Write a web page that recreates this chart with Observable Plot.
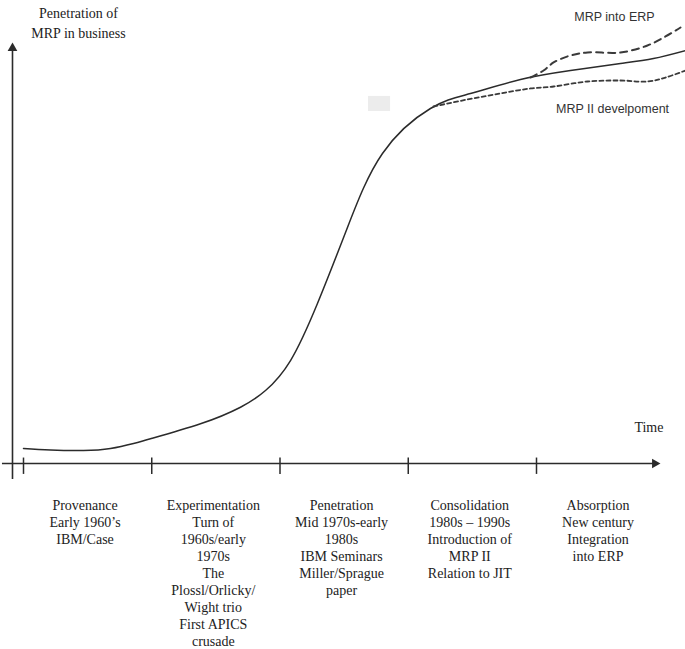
<!DOCTYPE html>
<html>
<head>
<meta charset="utf-8">
<script src="https://cdn.jsdelivr.net/npm/d3@7"></script>
<script src="https://cdn.jsdelivr.net/npm/@observablehq/plot@0.6"></script>
<style>
  html, body { margin: 0; padding: 0; background: #fff; }
</style>
</head>
<body>
<div id="chart"></div>
<script>
// x = time measured in phases (phase boundaries at 0..5), y = penetration (0..100)
const phaseNames = ["Provenance", "Experimentation", "Penetration", "Consolidation", "Absorption"];
const phaseText = [
  "Provenance\nEarly 1960’s\nIBM/Case",
  "Experimentation\nTurn of\n1960s/early\n1970s\nThe\nPlossl/Orlicky/\nWight trio\nFirst APICS\ncrusade",
  "Penetration\nMid 1970s-early\n1980s\nIBM Seminars\nMiller/Sprague\npaper",
  "Consolidation\n1980s – 1990s\nIntroduction of\nMRP II\nRelation to JIT",
  "Absorption\nNew century\nIntegration\ninto ERP"
];
const phaseTicks = [0, 1, 2, 3, 4];

// Main S-curve: penetration of MRP in business
const mrpT = [0, 0.211, 0.468, 0.678, 0.858, 0.990, 1.380, 1.692, 1.887, 2.082, 2.292, 2.526, 2.799, 3.173, 3.485, 3.875, 4.265, 4.655, 4.912, 5.162];
const mrpY = [3.57, 3.21, 3.10, 3.57, 4.76, 5.88, 9.45, 13.40, 17.38, 24.52, 38.10, 56.19, 73.81, 84.52, 88.10, 91.43, 93.57, 95.24, 96.43, 98.33];

// Branch: MRP into ERP (long dashes)
const erpT = [3.953, 4.055, 4.133, 4.265, 4.398, 4.655, 4.865, 5.006, 5.123];
const erpY = [91.9, 93.57, 95.48, 97.14, 97.86, 97.86, 99.52, 101.67, 103.81];

// Branch: MRP II development (short dashes)
const mrp2T = [3.197, 3.462, 3.719, 3.953, 4.133, 4.398, 4.655, 4.865, 5.006, 5.162];
const mrp2Y = [85.0, 86.67, 88.10, 89.29, 89.76, 90.95, 91.19, 90.95, 91.90, 93.57];

const seriesLabels = ["MRP into ERP", "MRP II develpoment"];
const yAxisTitle = "Penetration of\nMRP in business";
const xAxisTitle = "Time";

const mrp = mrpT.map((t, i) => ({t, y: mrpY[i]}));
const erp = erpT.map((t, i) => ({t, y: erpY[i]}));
const mrp2 = mrp2T.map((t, i) => ({t, y: mrp2Y[i]}));
const phases = phaseNames.map((name, i) => ({name, text: phaseText[i], i}));

const ink = "#2b2b2b";
const serif = "'Liberation Serif', 'Times New Roman', serif";
const sans = "'Liberation Sans', Arial, sans-serif";

// axis geometry in data units
const yAxisX = -0.0858;
const xAxisStart = -0.164;

const chart = Plot.plot({
  width: 685,
  height: 649,
  marginLeft: 23,
  marginRight: 20.75,
  marginTop: 43,
  marginBottom: 186,
  x: {domain: [0, 5], axis: null},
  y: {domain: [0, 100], axis: null},
  style: {background: "#fff", overflow: "visible"},
  marks: [
    // faint grey artifact box
    Plot.rect([{x1: 2.69, x2: 2.862, y1: 83.8, y2: 87.4}], {x1: "x1", x2: "x2", y1: "y1", y2: "y2", fill: "#ececec"}),
    // axes
    Plot.ruleY([0], {x1: xAxisStart, x2: 4.93, stroke: ink, strokeWidth: 1.6}),
    Plot.ruleX([yAxisX], {y1: -3.8, y2: 98.8, stroke: ink, strokeWidth: 1.6}),
    Plot.dot([{x: yAxisX, y: 98.9}], {x: "x", y: "y", symbol: "triangle", r: 3.6, fill: ink, stroke: "none"}),
    Plot.dot([{x: 4.923, y: 0}], {x: "x", y: "y", symbol: "triangle", r: 3.6, fill: ink, stroke: "none", rotate: 90}),
    Plot.ruleX(phaseTicks, {y1: -2.6, y2: 1.3, stroke: ink, strokeWidth: 1.5}),
    // curves
    Plot.line(mrp, {x: "t", y: "y", curve: "natural", stroke: ink, strokeWidth: 1.5}),
    Plot.line(erp, {x: "t", y: "y", curve: "catmull-rom", stroke: "#3a3a3a", strokeWidth: 2, strokeDasharray: "7,5"}),
    Plot.line(mrp2, {x: "t", y: "y", curve: "catmull-rom", stroke: "#3a3a3a", strokeWidth: 1.8, strokeDasharray: "4,3"}),
    // series labels
    Plot.text([seriesLabels[0]], {x: 4.608, y: 106.2, text: d => d, fontFamily: sans, fontSize: 12.5, fill: "#333", lineAnchor: "middle"}),
    Plot.text([seriesLabels[1]], {x: 4.593, y: 84.5, text: d => d, fontFamily: sans, fontSize: 12.5, fill: "#333", lineAnchor: "middle"}),
    // axis titles
    Plot.text([yAxisTitle], {x: 0.429, y: 109.5, text: d => d, fontFamily: serif, fontSize: 14, fill: "#222", lineAnchor: "top", lineHeight: 1.43}),
    Plot.text([xAxisTitle], {x: 4.99, y: 8.45, text: d => d, fontFamily: serif, fontSize: 14, fill: "#222", textAnchor: "end", lineAnchor: "middle"}),
    // phase descriptions
    Plot.text(phases, {x: d => d.i + 0.48, y: -8.1, text: "text", fontFamily: serif, fontSize: 14, fill: "#222", lineAnchor: "top", lineHeight: 1.22})
  ]
});
document.getElementById("chart").appendChild(chart);
</script>
</body>
</html>
